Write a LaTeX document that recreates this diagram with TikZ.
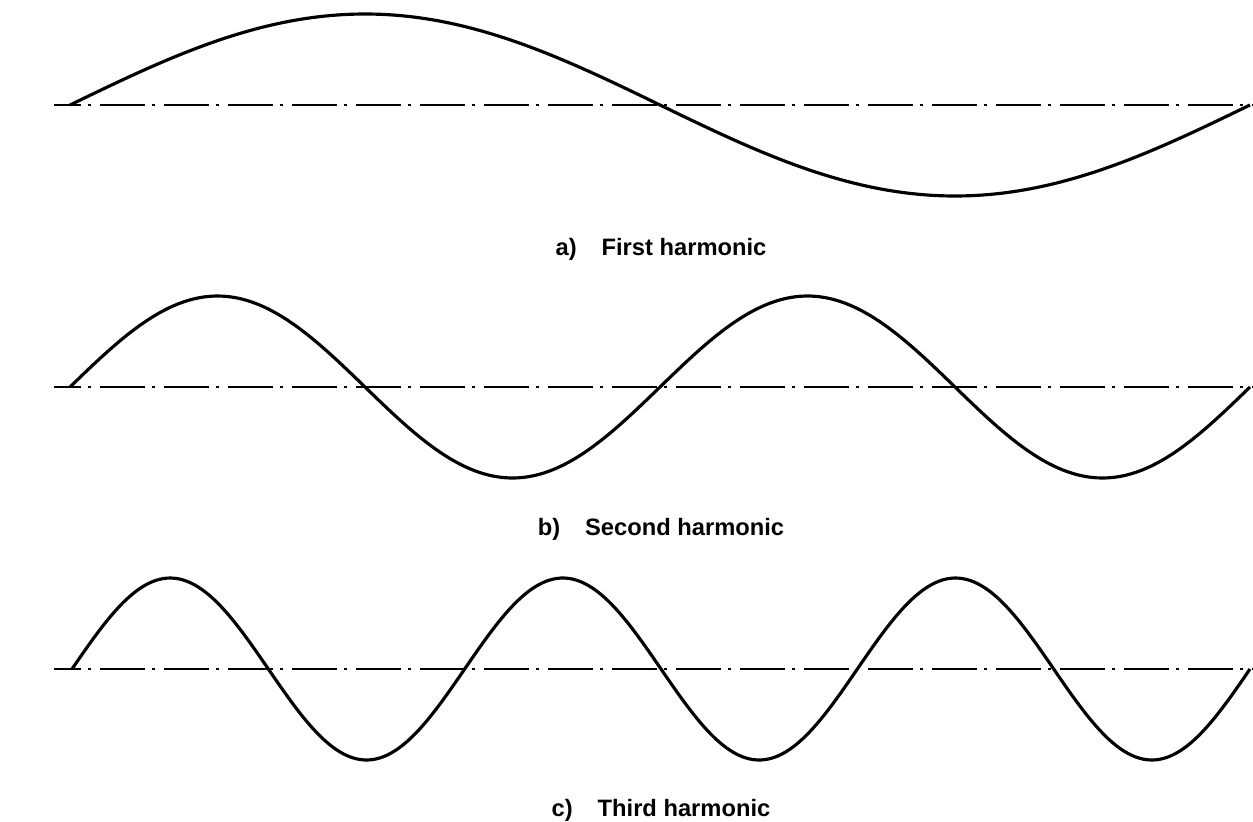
\documentclass[tikz,border=0pt]{standalone}
\usepackage{fontspec}
\setmainfont{Liberation Sans}
\begin{document}
\begin{tikzpicture}[x=0.02cm,y=-0.02cm]
      \useasboundingbox (0,0) rectangle (1253,821);
      
      \tikzstyle{axis} = [
        line width=0.8pt,
        dash pattern=on 0.9cm off 0.14cm on 0.06cm off 0.18cm,
        dash phase=0.36cm
      ]
      \tikzstyle{wave} = [
        line width=1.8pt,
        line join=round
      ]
      \tikzstyle{caption} = [
        draw=none,
        anchor=base,
        font=\bfseries\fontsize{13.5}{16}\selectfont
      ]
      
      % first harmonic
      \coordinate (axis1start) at (54,105);
      \coordinate (axis1end) at (1253,105);
      \draw[axis] (axis1start) -- (axis1end);
      \draw[wave] plot[domain=70:1250,samples=200] (\x,{105-91*sin(0.305085*(\x-70))});
      \node[caption] (caption1) at (661,255) {a)\hspace{1.05em}First harmonic};
      
      % second harmonic
      \coordinate (axis2start) at (54,387);
      \coordinate (axis2end) at (1253,387);
      \draw[axis] (axis2start) -- (axis2end);
      \draw[wave] plot[domain=70:1250,samples=240] (\x,{387-91*sin(2*0.305085*(\x-70))});
      \node[caption] (caption2) at (661,535) {b)\hspace{1.05em}Second harmonic};
      
      % third harmonic
      \coordinate (axis3start) at (54,669);
      \coordinate (axis3end) at (1253,669);
      \draw[axis] (axis3start) -- (axis3end);
      \draw[wave] plot[domain=72:1250,samples=300] (\x,{669-91*sin(3*0.305603*(\x-72))});
      \node[caption] (caption3) at (661,816) {c)\hspace{1.05em}Third harmonic};
    \end{tikzpicture}
\end{document}
